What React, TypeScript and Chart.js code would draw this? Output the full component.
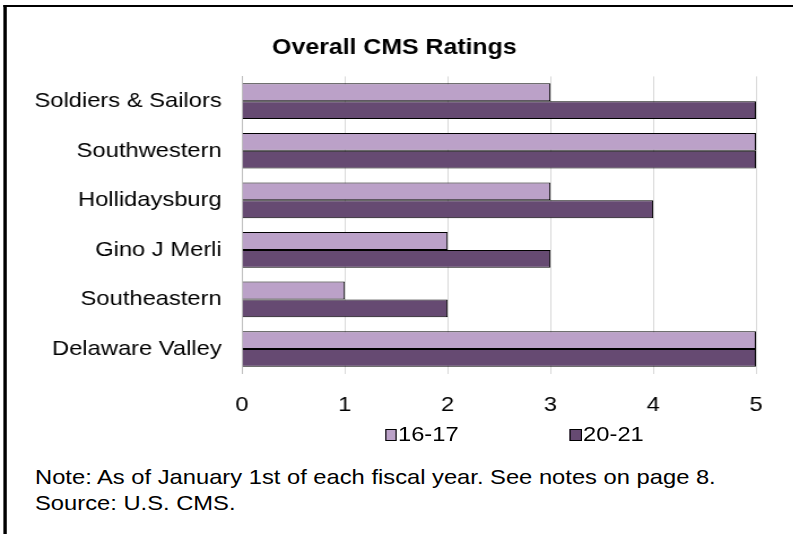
import React, { useEffect, useRef } from "react";
import { Chart, registerables } from "chart.js";

Chart.register(...registerables);

const categories: string[] = [
  "Soldiers & Sailors",
  "Southwestern",
  "Hollidaysburg",
  "Gino J Merli",
  "Southeastern",
  "Delaware Valley",
];
const seriesNames: string[] = ["16-17", "20-21"];
const ratings1617: number[] = [3, 5, 3, 2, 1, 5];
const ratings2021: number[] = [5, 5, 4, 3, 2, 5];
const xTicks: number[] = [0, 1, 2, 3, 4, 5];
const seriesColors: string[] = ["#BBA1C8", "#664A72"];
const titleText = "Overall CMS Ratings";
const noteLines: string[] = [
  "Note: As of January 1st of each fiscal year. See notes on page 8.",
  "Source: U.S. CMS.",
];

const FONT = "'Liberation Sans', Arial, sans-serif";
const SX = 1.13; // horizontal stretch of the reference

export default function App() {
  const canvasRef = useRef<HTMLCanvasElement | null>(null);

  useEffect(() => {
    document.body.style.overflow = "hidden";
    const canvas = canvasRef.current;
    if (!canvas) return;
    const chart = new Chart(canvas, {
      type: "bar",
      data: {
        labels: categories,
        datasets: [
          {
            label: seriesNames[0],
            data: ratings1617,
            backgroundColor: seriesColors[0],
            borderColor: "#000000",
            borderWidth: 1,
            borderSkipped: "start",
            categoryPercentage: 0.72,
            barPercentage: 1.0,
          },
          {
            label: seriesNames[1],
            data: ratings2021,
            backgroundColor: seriesColors[1],
            borderColor: "#000000",
            borderWidth: 1,
            borderSkipped: "start",
            categoryPercentage: 0.72,
            barPercentage: 1.0,
          },
        ],
      },
      options: {
        indexAxis: "y",
        animation: false,
        responsive: false,
        maintainAspectRatio: false,
        layout: { padding: { left: 29, right: 32, top: 0, bottom: 0 } },
        plugins: {
          legend: { display: false },
          tooltip: { enabled: false },
          title: {
            display: true,
            text: titleText,
            color: "#000000",
            font: { family: FONT, size: 22, weight: "bold" },
            padding: { top: 35, bottom: 15 },
          },
        },
        scales: {
          x: {
            min: xTicks[0],
            max: xTicks[xTicks.length - 1],
            afterBuildTicks: (scale: any) => {
              scale.ticks = xTicks.map((v) => ({ value: v }));
            },
            ticks: {
              color: "#000000",
              font: { family: FONT, size: 21 },
              padding: 19,
            },
            grid: { color: "#D9D9D9", lineWidth: 1, drawTicks: false },
            border: { display: false },
          },
          y: {
            afterFit: (scale: any) => {
              scale.width = 185.2;
            },
            ticks: {
              color: "#000000",
              font: { family: FONT, size: 21 },
              padding: 18,
            },
            grid: { display: false, drawTicks: false },
            border: { display: true, color: "#BFBFBF", width: 1 },
          },
        },
      },
    });
    return () => chart.destroy();
  }, []);

  const textStyle: React.CSSProperties = {
    position: "absolute",
    fontFamily: FONT,
    fontSize: "21px",
    lineHeight: "21px",
    color: "#000",
    whiteSpace: "nowrap",
    margin: 0,
  };

  const legendBox = (left: number, color: string): React.CSSProperties => ({
    position: "absolute",
    left,
    top: 429,
    width: 12 / SX,
    height: 12,
    boxSizing: "border-box",
    border: "1px solid #000",
    background: color,
  });

  return (
    <div
      style={{
        position: "absolute",
        left: 0,
        top: 0,
        width: 701,
        height: 534,
        transform: `scaleX(${SX})`,
        transformOrigin: "0 0",
        background: "#fff",
      }}
    >
      <div
        style={{
          position: "absolute",
          left: 3.1,
          top: 4.5,
          width: 720,
          height: 560,
          borderLeft: "3px solid #000",
          borderTop: "2px solid #000",
          boxSizing: "border-box",
        }}
      />
      <canvas
        ref={canvasRef}
        width={701}
        height={437}
        style={{ position: "absolute", left: 0, top: 0, width: 701, height: 437 }}
      />
      <div style={legendBox(340.7, seriesColors[0])} />
      <div style={{ ...textStyle, left: 352.2, top: 422.9 }}>{seriesNames[0]}</div>
      <div style={legendBox(504.4, seriesColors[1])} />
      <div style={{ ...textStyle, left: 516, top: 422.9 }}>{seriesNames[1]}</div>
      <div style={{ ...textStyle, left: 31, top: 466 }}>{noteLines[0]}</div>
      <div style={{ ...textStyle, left: 31, top: 492.2 }}>{noteLines[1]}</div>
    </div>
  );
}
